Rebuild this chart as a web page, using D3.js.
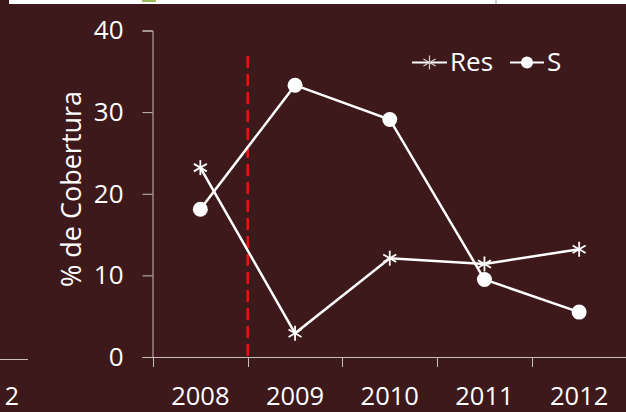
<!DOCTYPE html>
<html>
<head>
<meta charset="utf-8">
<script src="https://cdn.jsdelivr.net/npm/d3@7/dist/d3.min.js"></script>
<style>
  body { margin: 0; background: #3d191b; }
  svg { display: block; font-family: "Open Sans", Lato, sans-serif; }
</style>
</head>
<body>
<div id="chart"></div>
<script>
// years on the x-axis, % coverage on the y-axis
var years = ["2008", "2009", "2010", "2011", "2012"]
var resValues = [23.2, 2.9, 12.1, 11.4, 13.2]
var sValues = [18.1, 33.3, 29.1, 9.5, 5.5]
var yTicks = [0, 10, 20, 30, 40]
var seriesNames = ["Res", "S"]
var yTitle = "% de Cobertura"
var cutYear = "2009"   // dashed red line sits at the start of this year

var width = 626, height = 412
var bg = "#3d191b", fg = "#ffffff", axisColor = "#c9bfbf"
var fontSize = "26px"

var svg = d3.select("#chart")
    .append("svg")
    .attr("width", width)
    .attr("height", height)

svg.append("rect").attr("width", width).attr("height", height).attr("fill", bg)

// bits of neighbouring slide content that show at the edges
svg.append("rect").attr("x", 9).attr("y", 0).attr("width", width - 9).attr("height", 4).attr("fill", "#ffffff")
svg.append("rect").attr("x", 142).attr("y", 0).attr("width", 14).attr("height", 2).attr("fill", "#9bbb59")
svg.append("line").attr("x1", 496).attr("x2", 496).attr("y1", 0).attr("y2", 4).attr("stroke", "#999").attr("stroke-width", 1)
svg.append("line").attr("x1", 0).attr("x2", 28).attr("y1", 359.5).attr("y2", 359.5).attr("stroke", axisColor).attr("stroke-width", 1)
svg.append("text").attr("x", 19).attr("y", 404.5).attr("text-anchor", "end")
    .attr("fill", fg).style("font-size", "25px").text("2")

var x = d3.scaleBand()
    .domain(years)
    .range([153, 626.5])

var y = d3.scaleLinear()
    .domain([0, 40])
    .range([357, 30.5])

// y axis
var yAxis = svg.append("g")
    .attr("transform", "translate(152.5,0)")
    .call(d3.axisLeft(y).tickValues(yTicks).tickSize(10).tickPadding(19).tickSizeOuter(10))
yAxis.selectAll("path,line").attr("stroke", axisColor)
yAxis.selectAll("text").attr("fill", fg).style("font-size", fontSize).style("font-family", "'Open Sans', Lato, sans-serif")

// x axis (ticks at band edges)
var xAxisG = svg.append("g")
xAxisG.append("line")
    .attr("x1", 143).attr("x2", 626)
    .attr("y1", 357.5).attr("y2", 357.5)
    .attr("stroke", axisColor)
var edges = years.map(function (d) { return x(d) })
edges.push(x(years[years.length - 1]) + x.bandwidth())
xAxisG.selectAll(".xt")
    .data(edges)
    .enter()
    .append("line")
    .attr("x1", function (d) { return Math.round(d) + 0.5 })
    .attr("x2", function (d) { return Math.round(d) + 0.5 })
    .attr("y1", 357).attr("y2", 367)
    .attr("stroke", axisColor)
xAxisG.selectAll(".xl")
    .data(years)
    .enter()
    .append("text")
    .attr("x", function (d) { return x(d) + x.bandwidth() / 2 })
    .attr("y", 404.5)
    .attr("text-anchor", "middle")
    .attr("fill", fg)
    .style("font-size", "25.5px")
    .text(function (d) { return d })

// y title
svg.append("text")
    .attr("transform", "translate(81,189) rotate(-90)")
    .attr("text-anchor", "middle")
    .attr("fill", fg)
    .style("font-size", "27px")
    .text(yTitle)

// red dashed marker line
svg.append("line")
    .attr("x1", x(cutYear)).attr("x2", x(cutYear))
    .attr("y1", 56).attr("y2", 357)
    .attr("stroke", "#ee1111")
    .attr("stroke-width", 2.5)
    .attr("stroke-dasharray", "12,6")

var cx = function (d, i) { return x(years[i]) + x.bandwidth() / 2 }
var line = d3.line()
    .x(function (d, i) { return x(years[i]) + x.bandwidth() / 2 })
    .y(function (d) { return y(d) })

// Res series
svg.append("path")
    .datum(resValues)
    .attr("d", line)
    .attr("fill", "none")
    .attr("stroke", fg)
    .attr("stroke-width", 2.5)

var star = function (g, px, py, r, color, w) {
    var a = [0, 60, 120]
    for (var k = 0; k < a.length; k++) {
        var t = (a[k] + 90) * Math.PI / 180
        g.append("line")
            .attr("x1", px - r * Math.cos(t)).attr("y1", py - r * Math.sin(t))
            .attr("x2", px + r * Math.cos(t)).attr("y2", py + r * Math.sin(t))
            .attr("stroke", color).attr("stroke-width", w)
    }
}
var resG = svg.append("g")
resValues.forEach(function (d, i) {
    star(resG, cx(d, i), y(d), 7.5, fg, 1.8)
})

// S series
svg.append("path")
    .datum(sValues)
    .attr("d", line)
    .attr("fill", "none")
    .attr("stroke", fg)
    .attr("stroke-width", 2.5)

svg.selectAll(".sdot")
    .data(sValues)
    .enter()
    .append("circle")
    .attr("cx", cx)
    .attr("cy", function (d) { return y(d) })
    .attr("r", 7.5)
    .attr("fill", fg)

// legend
var leg = svg.append("g")
leg.append("line").attr("x1", 412).attr("x2", 447).attr("y1", 62.5).attr("y2", 62.5).attr("stroke", fg).attr("stroke-width", 2)
star(leg, 429.5, 62.5, 7, "#d8cccc", 1.2)
leg.append("text").attr("x", 450).attr("y", 71).attr("fill", fg).style("font-size", fontSize).text(seriesNames[0])
leg.append("line").attr("x1", 510).attr("x2", 544).attr("y1", 62.5).attr("y2", 62.5).attr("stroke", fg).attr("stroke-width", 2)
leg.append("circle").attr("cx", 527).attr("cy", 62.5).attr("r", 6).attr("fill", fg)
leg.append("text").attr("x", 547).attr("y", 71).attr("fill", fg).style("font-size", fontSize).text(seriesNames[1])
</script>
</body>
</html>
